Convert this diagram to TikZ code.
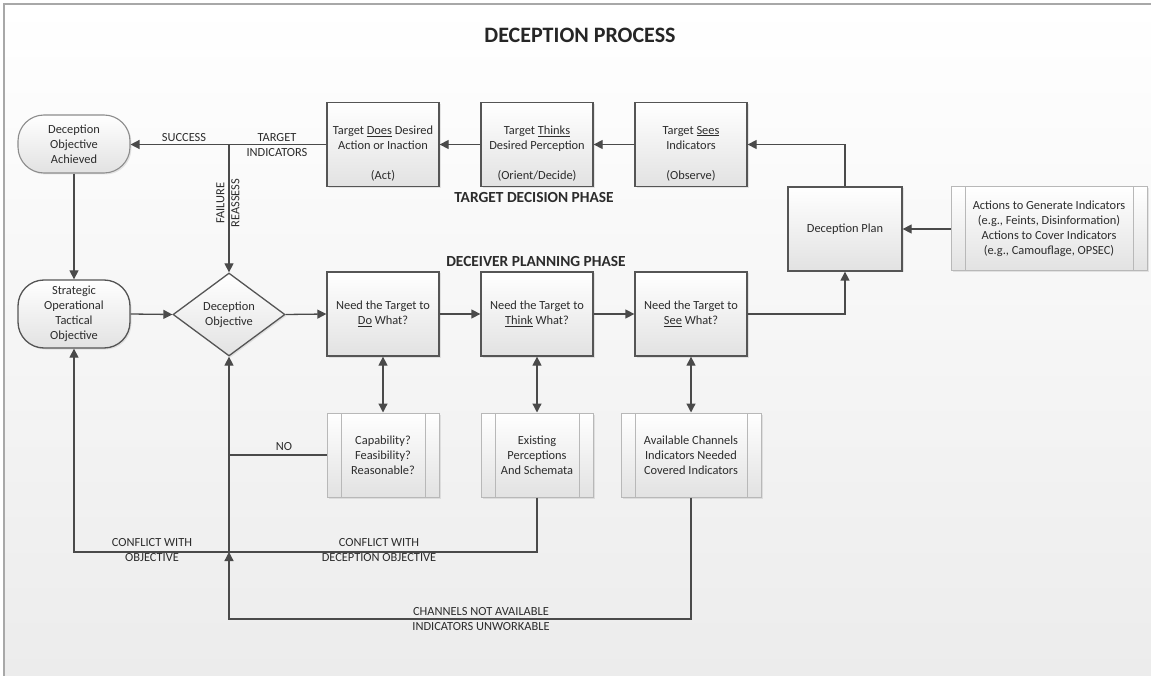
\documentclass[tikz,border=0pt]{standalone}
\usepackage{fontspec}
\setmainfont{Carlito}
\usetikzlibrary{shapes.geometric,shapes.misc,arrows.meta,shadows,calc}
\definecolor{ln}{HTML}{4A4A4A}
\definecolor{bd}{HTML}{555555}
\definecolor{lbd}{HTML}{B8B8B8}
\definecolor{abd}{HTML}{8C8C8C}
\definecolor{tx}{HTML}{2C2C2C}
\definecolor{gbot}{HTML}{E2E2E2}
\definecolor{bgbot}{HTML}{ECECEC}
\definecolor{frm}{HTML}{A8A8A8}
\begin{document}
\begin{tikzpicture}[x=1pt,y=-1pt,
  every node/.style={font=\fontsize{12.4}{15}\selectfont, text=tx},
  shad/.style={drop shadow={opacity=0.18,shadow xshift=1.5pt,shadow yshift=-1.5pt}},
  proc/.style={draw=bd, line width=1.3pt, top color=white, bottom color=gbot,
    minimum width=112pt, minimum height=84pt, inner sep=0pt, align=center, shad},
  pre/.style={draw=lbd, line width=1pt, top color=white, bottom color=gbot,
    minimum height=84pt, inner sep=0pt, align=center, shad,
    path picture={\draw[lbd, line width=1pt]
      ([xshift=14pt]path picture bounding box.north west) -- ([xshift=14pt]path picture bounding box.south west)
      ([xshift=-14pt]path picture bounding box.north east) -- ([xshift=-14pt]path picture bounding box.south east);}},
  stad/.style={rectangle, rounded corners=26pt, top color=white, bottom color=gbot,
    minimum width=112pt, inner sep=0pt, align=center, shad},
  dia/.style={diamond, draw=bd, line width=1.3pt, top color=white, bottom color=gbot,
    minimum width=112pt, minimum height=83pt, inner sep=0pt, align=center, shad},
  txt/.style={align=center, inner sep=0pt},
  lab/.style={align=center, inner sep=0pt},
  phase/.style={inner sep=0pt, font=\fontsize{15.4}{18}\selectfont\bfseries},
  conn/.style={draw=ln, line width=1.3pt, -{Triangle[length=9pt,width=9pt]}},
  dconn/.style={draw=ln, line width=1.3pt, {Triangle[length=9pt,width=9pt]}-{Triangle[length=9pt,width=9pt]}},
  plain/.style={draw=ln, line width=1.3pt}
]
\useasboundingbox (0,0) rectangle (1151,676);
\fill[top color=white, bottom color=bgbot] (4,4) rectangle (1151,676);
\draw[frm, line width=1.5pt] (4,676) -- (4,4) -- (1151,4);

\node[font=\fontsize{22}{26}\selectfont\bfseries, text=black!85, inner sep=0pt] (title) at (580,35) {DECEPTION PROCESS};

% top row
\node[stad, draw=abd, line width=1.1pt, minimum height=58pt] (ach) at (74,144) {Deception\\Objective\\Achieved};
\node[proc] (act) at (383,144.5) {};
\node[txt] (actt) at (383,153.5) {Target \underline{Does} Desired\\Action or Inaction\\[15pt](Act)};
\node[proc] (ori) at (537,144.5) {};
\node[txt] (orit) at (537,153.5) {Target \underline{Thinks}\\Desired Perception\\[15pt](Orient/Decide)};
\node[proc] (obs) at (691,144.5) {};
\node[txt] (obst) at (691,153.5) {Target \underline{Sees}\\Indicators\\[15pt](Observe)};
\node[phase] (tdp) at (534,198) {TARGET DECISION PHASE};

\node[proc, minimum width=114pt] (plan) at (845,229) {Deception Plan};
\node[pre, minimum width=196pt] (acts) at (1049,229) {Actions to Generate Indicators\\(e.g., Feints, Disinformation)\\Actions to Cover Indicators\\(e.g., Camouflage, OPSEC)};

% middle row
\node[phase] (dpp) at (536,262) {DECEIVER PLANNING PHASE};
\node[stad, draw=bd, line width=1.3pt, minimum height=68pt] (sot) at (74,314) {Strategic\\Operational\\Tactical\\Objective};
\node[dia] (dobj) at (229,314.5) {Deception\\Objective};
\node[proc] (ndo) at (383,314) {Need the Target to\\\underline{Do} What?};
\node[proc] (nth) at (537,314) {Need the Target to\\\underline{Think} What?};
\node[proc] (nse) at (691,314) {Need the Target to\\\underline{See} What?};

% bottom row
\node[pre, minimum width=112pt] (cap) at (383,455) {Capability?\\Feasibility?\\Reasonable?};
\node[pre, minimum width=112pt] (exi) at (537,455) {Existing\\Perceptions\\And Schemata};
\node[pre, minimum width=140pt] (ava) at (691,455) {Available Channels\\Indicators Needed\\Covered Indicators};

% connectors
\coordinate (fj) at (dobj.north |- act.west);
\draw[conn] (act.west) -- (act.west -| ach.east);
\draw[conn] (fj) -- (dobj.north);
\draw[conn] (ori.west) -- (act.east);
\draw[conn] (obs.west) -- (ori.east);
\draw[conn] (plan.north) |- (obs.east);
\draw[conn] (nse.east) -| (plan.south);
\draw[conn] (acts.west) -- (plan.east);
\draw[conn] (ach.south) -- (sot.north);
\draw[conn] (sot.east) -- (dobj.west);
\draw[conn] (dobj.east) -- (ndo.west);
\draw[conn] (ndo.east) -- (nth.west);
\draw[conn] (nth.east) -- (nse.west);
\draw[dconn] (ndo.south) -- (cap.north);
\draw[dconn] (nth.south) -- (exi.north);
\draw[dconn] (nse.south) -- (ava.north);
\draw[plain] (cap.west) -- (cap.west -| dobj.south);
\coordinate (cl) at (74,552);
\coordinate (cx) at (229,552);
\coordinate (bl) at (229,619);
\draw[conn] (exi.south) |- (cl) -- (sot.south);
\draw[conn] (ava.south) |- (bl) -- (cx);
\draw[conn] (cx) -- (dobj.south);

% labels
\node[lab] (lsucc) at (184,138) {SUCCESS};
\node[lab] (ltgt) at (277,145.5) {TARGET\\INDICATORS};
\node[lab, rotate=90] (lfail) at (228,203) {FAILURE\\REASSESS};
\node[lab] (lno) at (284,447) {NO};
\node[lab] (lc1) at (152,550.5) {CONFLICT WITH\\OBJECTIVE};
\node[lab] (lc2) at (379,550.5) {CONFLICT WITH\\DECEPTION OBJECTIVE};
\node[lab] (lch) at (481,619.5) {CHANNELS NOT AVAILABLE\\INDICATORS UNWORKABLE};
\end{tikzpicture}
\end{document}
